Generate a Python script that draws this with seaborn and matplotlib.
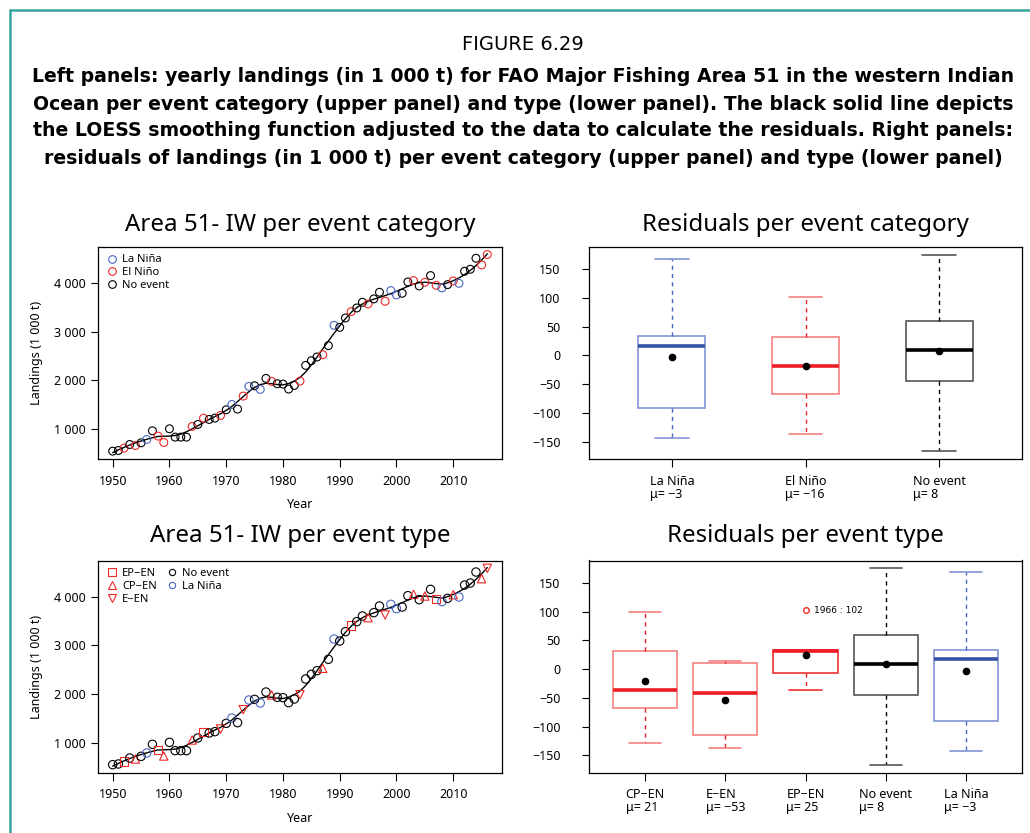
import numpy as np
import pandas as pd
import matplotlib
matplotlib.use("Agg")
import matplotlib.pyplot as plt
from matplotlib.lines import Line2D
import seaborn as sns

sns.set_theme(style="ticks")
plt.rcParams['font.family'] = ['Noto Sans', 'DejaVu Sans']
plt.rcParams.update({'text.color': 'black', 'axes.labelcolor': 'black',
                     'xtick.color': 'black', 'ytick.color': 'black'})

# --- data ---
years = list(range(1950, 2017))
landings = [548, 562, 610, 685, 664, 719, 788, 966, 856, 726,
            1007, 836, 836, 836, 1055, 1096, 1226, 1199, 1226, 1281,
            1397, 1507, 1411, 1678, 1877, 1890, 1815, 2041, 1980, 1932,
            1925, 1822, 1897, 1986, 2308, 2404, 2480, 2528, 2713, 3130,
            3089, 3281, 3411, 3487, 3603, 3569, 3672, 3809, 3624, 3843,
            3754, 3788, 4021, 4048, 3939, 4014, 4151, 3952, 3898, 3966,
            4041, 3993, 4240, 4281, 4507, 4370, 4583]

la_nina_years = [1956, 1971, 1974, 1976, 1989, 1999, 2000, 2008, 2011]
cp_en_years = [1954, 1959, 1964, 1978, 1987, 1995, 2003, 2005, 2010, 2015]
e_en_years = [1969, 1973, 1983, 1998, 2016]
ep_en_years = [1952, 1958, 1966, 1992, 2007]

# residuals (1 000 t) from the LOESS fit, per type
res_cp_en = [-128, -95, -67, -66, -40, -32, 30, 33, 55, 100]
res_e_en = [-137, -115, -42, 10, 14]
res_ep_en = [-36, -6, 31, 33, 102]
res_la_nina = [-143, -110, -91, -10, 17, 24, 34, 84, 168]
res_no_event = [-166, -140, -122, -105, -90, -78, -66, -58, -50, -46, -42,
                -36, -28, -20, -12, -5, 0, 4, 7, 11,
                16, 22, 28, 35, 42, 48, 54, 57, 60,
                70, 77, 84, 92, 102, 114, 128, 150, 175]

cat_order = ['La Niña', 'El Niño', 'No event']
cat_labels = ['La Niña\nμ= −3', 'El Niño\nμ= −16', 'No event\nμ= 8']
type_order = ['CP−EN', 'E−EN', 'EP−EN', 'No event', 'La Niña']
type_labels = ['CP−EN\nμ= 21', 'E−EN\nμ= −53', 'EP−EN\nμ= 25',
               'No event\nμ= 8', 'La Niña\nμ= −3']

caption = ["Left panels: yearly landings (in 1 000 t) for FAO Major Fishing Area 51 in the western Indian",
           "Ocean per event category (upper panel) and type (lower panel). The black solid line depicts",
           "the LOESS smoothing function adjusted to the data to calculate the residuals. Right panels:",
           "residuals of landings (in 1 000 t) per event category (upper panel) and type (lower panel)"]

BLUE = '#4a66c0'
RED = '#f02828'


def event_type(y):
    if y in la_nina_years:
        return 'La Niña'
    if y in cp_en_years:
        return 'CP−EN'
    if y in e_en_years:
        return 'E−EN'
    if y in ep_en_years:
        return 'EP−EN'
    return 'No event'


df = pd.DataFrame({'year': years, 'landings': landings})
df['type'] = [event_type(y) for y in years]
df['category'] = df['type'].replace({'CP−EN': 'El Niño', 'E−EN': 'El Niño', 'EP−EN': 'El Niño'})

res_type = pd.DataFrame({
    'type': (['CP−EN'] * len(res_cp_en) + ['E−EN'] * len(res_e_en) + ['EP−EN'] * len(res_ep_en)
             + ['No event'] * len(res_no_event) + ['La Niña'] * len(res_la_nina)),
    'residual': res_cp_en + res_e_en + res_ep_en + res_no_event + res_la_nina,
})
res_type['category'] = res_type['type'].replace({'CP−EN': 'El Niño', 'E−EN': 'El Niño', 'EP−EN': 'El Niño'})


def loess(x, y, span=0.25):
    # local quadratic fit with tricube weights
    x = np.asarray(x, float)
    y = np.asarray(y, float)
    k = int(np.ceil(span * len(x)))
    grid = np.linspace(x.min(), x.max(), 300)
    fit = []
    for g in grid:
        d = np.abs(x - g)
        h = np.sort(d)[k - 1]
        w = np.clip(1 - (d / h) ** 3, 0, 1) ** 3
        coef = np.polyfit(x - g, y, 2, w=np.sqrt(w))
        fit.append(coef[-1])
    return grid, np.array(fit)


W, H = 1030, 833
fig = plt.figure(figsize=(W / 100, H / 100), dpi=100)


def add_ax(x0, y0, x1, y1):
    return fig.add_axes([x0 / W, 1 - y1 / H, (x1 - x0) / W, (y1 - y0) / H])


ax_tl = add_ax(97.7, 246.7, 502.3, 459)
ax_bl = add_ax(97.7, 560.5, 502.3, 772.5)
ax_tr = add_ax(589, 246.7, 1022, 459)
ax_br = add_ax(589, 560.5, 1022, 772.5)

# teal frame
fig.add_artist(Line2D([9.5 / W, 9.5 / W], [0, 1 - 9.5 / H], color='#35a69c', lw=1.8))
fig.add_artist(Line2D([9.5 / W, 1], [1 - 9.5 / H, 1 - 9.5 / H], color='#35a69c', lw=1.8))

# caption
cap_font = ['DejaVu Sans']
fig.text(523 / W, 1 - 45 / H, "FIGURE 6.29", ha='center', va='center', fontsize=14, family=cap_font)
for i, line in enumerate(caption):
    fig.text(523 / W, 1 - (77 + 27 * i) / H, line, ha='center', va='center', fontsize=13.6,
             fontweight='bold', family=cap_font)

fig.text(300 / W, 1 - 225 / H, "Area 51- IW per event category", ha='center', va='center', fontsize=17.3)
fig.text(805 / W, 1 - 225 / H, "Residuals per event category", ha='center', va='center', fontsize=17.3)
fig.text(300 / W, 1 - 536 / H, "Area 51- IW per event type", ha='center', va='center', fontsize=17.3)
fig.text(805 / W, 1 - 536 / H, "Residuals per event type", ha='center', va='center', fontsize=17.3)

grid, fit = loess(years, landings)


def open_markers(ax, lw=0.8):
    pts = ax.collections[0]
    pts.set_edgecolors(pts.get_facecolors())
    pts.set_facecolors('none')
    pts.set_linewidth(lw)


def style_left(ax):
    ax.set_xlim(1947.36, 2018.64)
    ax.set_ylim(387, 4744)
    ax.set_xticks(range(1950, 2011, 10))
    ax.set_yticks([1000, 2000, 3000, 4000])
    ax.set_yticklabels(['1 000', '2 000', '3 000', '4 000'])
    ax.set_xlabel('Year', fontsize=9, labelpad=7.5)
    ax.set_ylabel('Landings (1 000 t)', fontsize=9, labelpad=8)


cat_pal = {'La Niña': BLUE, 'El Niño': RED, 'No event': 'black'}
sns.scatterplot(data=df, x='year', y='landings', hue='category', palette=cat_pal,
                s=32, ax=ax_tl, legend=False, zorder=3)
open_markers(ax_tl)
sns.lineplot(x=grid, y=fit, color='black', lw=1, ax=ax_tl)
style_left(ax_tl)
h = [Line2D([], [], ls='', marker='o', mfc='none', mec=cat_pal[c], ms=5.5, mew=0.8) for c in cat_order]
ax_tl.legend(h, cat_order, loc='upper left', frameon=False, fontsize=8, handletextpad=0.3,
             labelspacing=0.15, borderaxespad=0.3, handlelength=1.2)

type_pal = {'EP−EN': RED, 'CP−EN': RED, 'E−EN': RED, 'No event': 'black', 'La Niña': BLUE}
type_mk = {'EP−EN': 's', 'CP−EN': '^', 'E−EN': 'v', 'No event': 'o', 'La Niña': 'o'}
sns.scatterplot(data=df, x='year', y='landings', hue='type', style='type', palette=type_pal,
                markers=type_mk, s=36, ax=ax_bl, legend=False, zorder=3)
open_markers(ax_bl)
sns.lineplot(x=grid, y=fit, color='black', lw=1, ax=ax_bl)
style_left(ax_bl)
leg_types = ['EP−EN', 'CP−EN', 'E−EN', 'No event', 'La Niña']
h = [Line2D([], [], ls='', marker=type_mk[t], mfc='none', mec=type_pal[t], mew=0.8,
            ms=4.5 if t in ('No event', 'La Niña') else 6) for t in leg_types]
leg_types_h = h[:3] + [h[3], h[4], Line2D([], [], ls='')]
ax_bl.legend(leg_types_h, leg_types + [''], loc='upper left', ncol=2, frameon=False, fontsize=8,
             handletextpad=0.3, labelspacing=0.15, borderaxespad=0.3, handlelength=1.2,
             columnspacing=0.8)

box_style = {
    'La Niña': dict(edge='#8095d4', med='#3452a6', wh=BLUE),
    'El Niño': dict(edge='#f48080', med='#ee1c25', wh='#ee1c25'),
    'CP−EN': dict(edge='#f48080', med='#ee1c25', wh='#ee1c25'),
    'E−EN': dict(edge='#f48080', med='#ee1c25', wh='#ee1c25'),
    'EP−EN': dict(edge='#f03030', med='#ee1c25', wh='#ee1c25'),
    'No event': dict(edge='#555555', med='black', wh='black'),
}


def draw_boxes(ax, data, col, order, width):
    for c in order:
        st = box_style[c]
        sns.boxplot(data=data[data[col] == c], x=col, y='residual', order=order, ax=ax,
                    width=width, color='white', linecolor=st['edge'], linewidth=1.2,
                    showmeans=True,
                    meanprops=dict(marker='o', markerfacecolor='black', markeredgecolor='black',
                                   markersize=4.5),
                    medianprops=dict(color=st['med'], linewidth=2.6),
                    whiskerprops=dict(color=st['wh'], linestyle=(0, (3, 3)), linewidth=1),
                    capprops=dict(color=st['edge'], linewidth=1.2),
                    flierprops=dict(marker='o', markerfacecolor='none', markeredgecolor=RED,
                                    markersize=4))


def style_right(ax, labels, n):
    ax.set_ylim(-179.6, 188.6)
    ax.set_xlim(-0.5 - 0.04 * n, n - 0.5 + 0.04 * n)
    ax.set_yticks(range(-150, 151, 50))
    ax.set_xticks(range(n))
    ax.set_xticklabels(labels)
    for t in ax.get_xticklabels():
        t.set_multialignment('left')
        t.set_linespacing(1.0)
    ax.set_xlabel('')
    ax.set_ylabel('')


draw_boxes(ax_tr, res_type, 'category', cat_order, 0.5)
style_right(ax_tr, cat_labels, 3)
draw_boxes(ax_br, res_type, 'type', type_order, 0.8)
style_right(ax_br, type_labels, 5)
ax_br.text(2.1, 102, '1966 : 102', fontsize=6.5, va='center', ha='left', family=['DejaVu Sans'])

for ax in (ax_tl, ax_bl, ax_tr, ax_br):
    for s in ax.spines.values():
        s.set_visible(True)
        s.set_color('black')
        s.set_linewidth(0.9)
        s.set_zorder(5)
    ax.tick_params(axis='both', labelsize=9, length=5.4, width=0.8, color='black', pad=3)
for ax in (ax_tl, ax_bl):
    ax.tick_params(axis='x', pad=6)
for ax in (ax_tr, ax_br):
    ax.tick_params(axis='x', pad=6)
    ax.tick_params(axis='y', pad=15)

fig.savefig('out.png', dpi=100)
